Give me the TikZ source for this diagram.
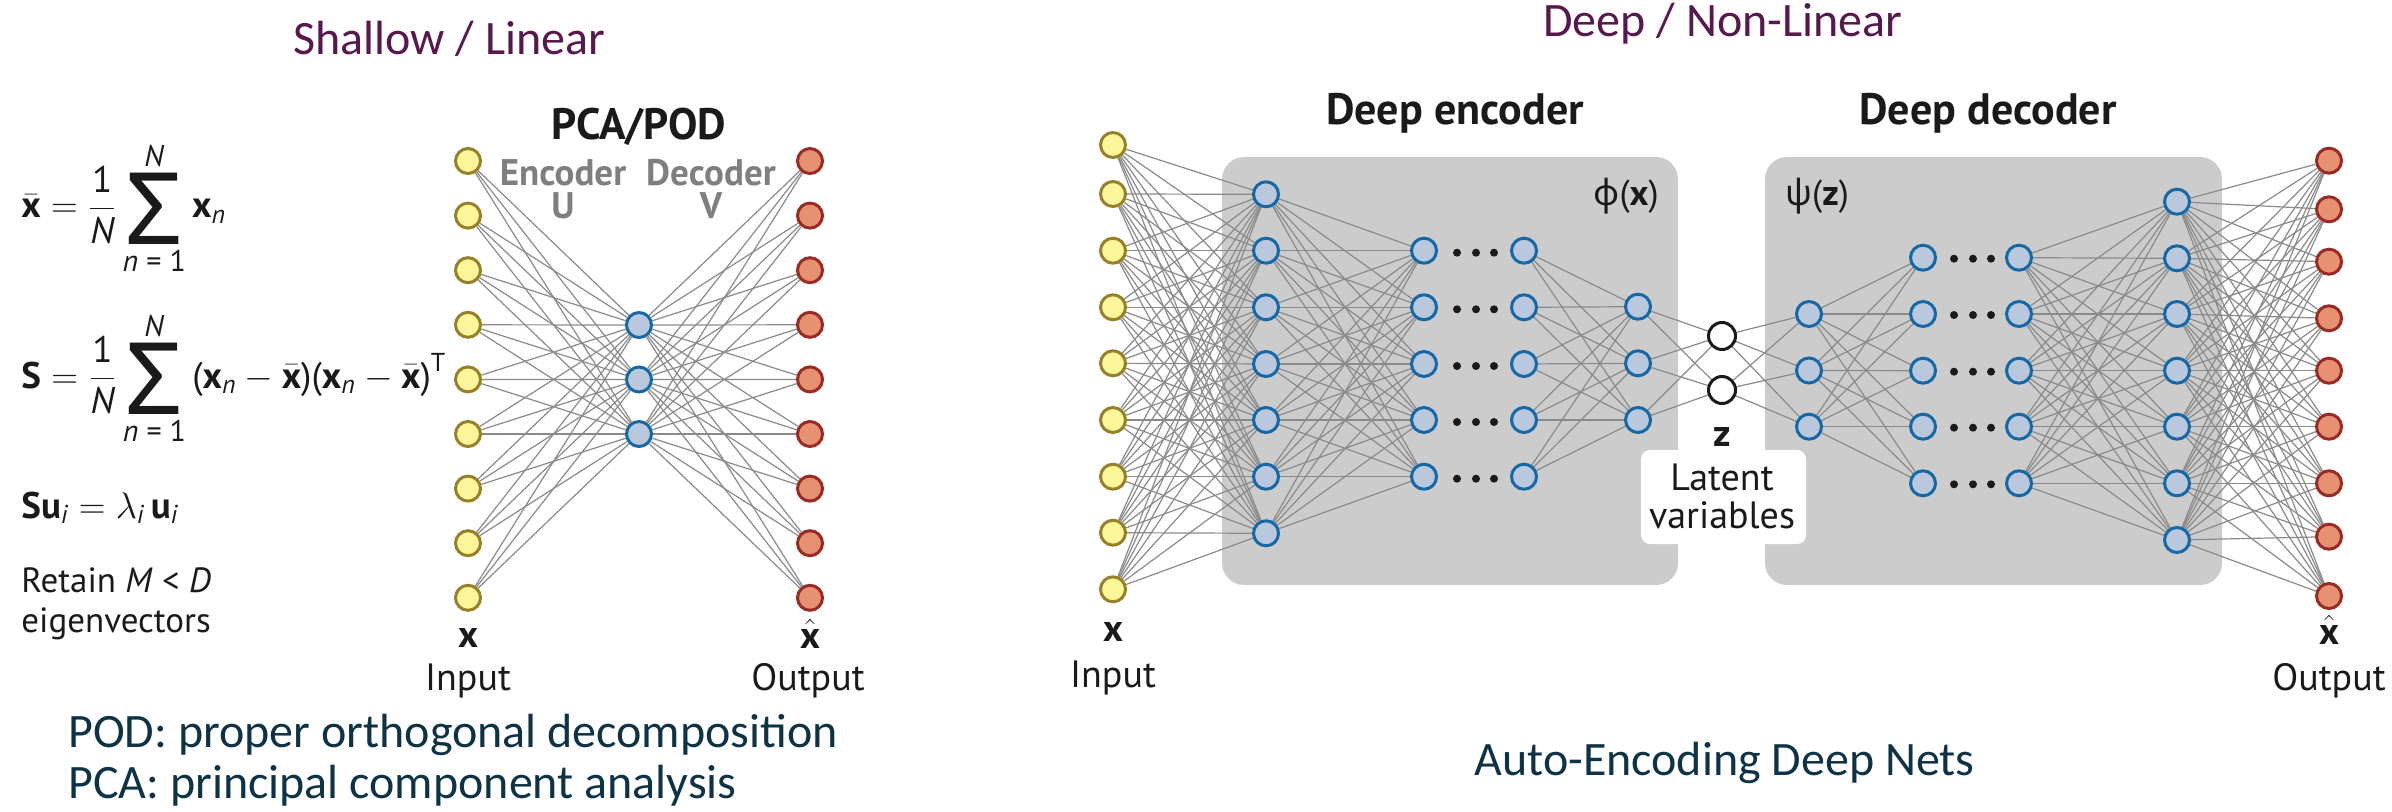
\RequirePackage{fix-cm}
\documentclass[tikz,border=0pt]{standalone}
\usepackage{amsmath}
\usepackage{fontspec}
\newfontfamily\slidefont{Carlito}
\newfontfamily\figfont{PT Sans}
\newfontfamily\grkfont{Noto Sans}
\definecolor{edgegray}{RGB}{138,138,138}
\definecolor{boxgray}{RGB}{204,204,204}
\definecolor{infill}{RGB}{255,245,154}
\definecolor{indraw}{RGB}{150,128,40}
\definecolor{hidfill}{RGB}{185,200,221}
\definecolor{hiddraw}{RGB}{20,104,166}
\definecolor{outfill}{RGB}{231,145,115}
\definecolor{outdraw}{RGB}{154,42,36}
\definecolor{titlepurple}{RGB}{88,24,78}
\definecolor{slideblue}{RGB}{14,50,70}
\definecolor{labelgray}{RGB}{127,127,127}
\definecolor{inkblack}{RGB}{26,26,26}
\newcommand{\mysum}{\mathop{\vcenter{\hbox{\grkfont\bfseries\fontsize{50pt}{50pt}\selectfont\setbox0\hbox{Σ}\ht0=\fontcharht\font`Σ\dp0=0pt\box0}}}}
\newcommand{\limtext}[1]{\hbox{\figfont\fontsize{15pt}{15pt}\selectfont #1}}
\pgfdeclarelayer{boxes}
\pgfdeclarelayer{wires}
\pgfsetlayers{boxes,wires,main}
\tikzset{
  neuron/.style={circle, minimum size=12.5pt, inner sep=0pt, line width=1.5pt},
  innode/.style={neuron, fill=infill, draw=indraw},
  hidnode/.style={neuron, fill=hidfill, draw=hiddraw},
  outnode/.style={neuron, fill=outfill, draw=outdraw},
  latnode/.style={neuron, fill=white, draw=inkblack, minimum size=13.5pt},
  wire/.style={draw=edgegray, line width=0.6pt},
  ellipsisdot/.style={circle, fill=inkblack, inner sep=0pt, minimum size=4pt},
  slidetitle/.style={font=\slidefont\fontsize{24pt}{28pt}\selectfont, text=titlepurple, inner sep=0pt, anchor=base west},
  slidetext/.style={font=\slidefont\fontsize{24pt}{28pt}\selectfont, text=slideblue, inner sep=0pt, anchor=base west},
  figlabel/.style={font=\figfont\fontsize{19pt}{23pt}\selectfont, text=inkblack, inner sep=0pt, anchor=base},
  varlabel/.style={font=\figfont\bfseries\fontsize{19pt}{23pt}\selectfont, text=inkblack, inner sep=0pt},
  headlabel/.style={font=\figfont\bfseries\fontsize{22pt}{26pt}\selectfont, text=inkblack, inner sep=0pt, anchor=base},
  enclabel/.style={font=\figfont\bfseries\fontsize{18.5pt}{22pt}\selectfont, text=labelgray, inner sep=0pt, anchor=base},
  formula/.style={font=\figfont\fontsize{18.5pt}{22pt}\selectfont, text=inkblack, inner sep=0pt, anchor=base west},
  smalltext/.style={font=\figfont\fontsize{17.5pt}{21pt}\selectfont, text=inkblack, inner sep=0pt, anchor=base west},
  funclabel/.style={font=\figfont\fontsize{18pt}{22pt}\selectfont, text=inkblack, inner sep=0pt},
  encbox/.style={fill=boxgray, rounded corners=11pt},
  latbox/.style={fill=white, rounded corners=4.5pt}
}
\begin{document}
\begin{tikzpicture}[x=0.5pt, y=-0.5pt]
\useasboundingbox (0,0) rectangle (2392,812);

% ---------------- titles and slide text
\node[slidetitle] (tshallow) at (293,55) {Shallow / Linear};
\node[slidetitle] (tdeep) at (1543,37) {Deep / Non-Linear};
\node[slidetext] (tpod) at (68,747) {POD: proper orthogonal decomposition};
\node[slidetext] (tpca) at (68,798) {PCA: principal component analysis};
\node[slidetext] (tauto) at (1474,775) {Auto-Encoding Deep Nets};

% ---------------- formulas
\node[formula] (fmean) at (21,218) {$\bar{\textbf{x}} = \dfrac{\text{1}}{\textit{N}}\mysum\limits_{\limtext{\textit{n} = 1}}^{\limtext{\textit{N}}}\textbf{x}_{\textit{n}}$};
\node[formula] (fcov) at (21,388) {$\textbf{S} = \dfrac{\text{1}}{\textit{N}}\mysum\limits_{\limtext{\textit{n} = 1}}^{\limtext{\textit{N}}}\text{(}\textbf{x}_{\textit{n}} - \bar{\textbf{x}}\text{)(}\textbf{x}_{\textit{n}} - \bar{\textbf{x}}\text{)}^{\text{T}}$};
\node[formula] (feig) at (21,518) {$\textbf{Su}_{\textit{i}} = \lambda_{\textit{i}}\,\textbf{u}_{\textit{i}}$};
\node[smalltext] (fret) at (21,592) {Retain \textit{M} < \textit{D}};
\node[smalltext] (feigv) at (21,632) {eigenvectors};

% ---------------- shallow network
\foreach \i/\y in {1/161,2/215.6,3/270.2,4/324.8,5/379.4,6/434,7/488.6,8/543.2,9/597.8}{
  \node[innode] (pin\i) at (468,\y) {};
  \node[outnode] (pout\i) at (810,\y) {};
}
\foreach \j/\y in {1/325,2/379.5,3/434}{
  \node[hidnode] (phid\j) at (639,\y) {};
}
\begin{pgfonlayer}{wires}
\foreach \i in {1,...,9}{
  \foreach \j in {1,2,3}{
    \draw[wire] (pin\i) -- (phid\j);
    \draw[wire] (phid\j) -- (pout\i);
  }
}
\end{pgfonlayer}
\node[headlabel] (lpca) at (639,140) {PCA/POD};
\node[enclabel] (lenc) at (563,186) {Encoder};
\node[enclabel] (lencu) at (563,219) {U};
\node[enclabel] (ldec) at (711,186) {Decoder};
\node[enclabel] (ldecv) at (711,219) {V};
\node[varlabel] (lpx) at (468,638) {x};
\node[figlabel] (lpin) at (468,690) {Input};
\node[varlabel] (lpxh) at (810,634) {$\hat{\textbf{x}}$};
\node[figlabel] (lpout) at (808,690) {Output};

% ---------------- deep network boxes
\begin{pgfonlayer}{boxes}
\path[encbox] (1222,157) rectangle (1678,585);
\path[encbox] (1765,157) rectangle (2222,585);
\path[latbox] (1641,450) rectangle (1806,544);
\end{pgfonlayer}

\foreach \i/\y in {1/145,2/194,3/250.7,4/307.3,5/363.3,6/420,7/476.7,8/532.7,9/589.3}{
  \node[innode] (din\i) at (1113,\y) {};
}
\foreach \i/\y in {1/194.3,2/250.7,3/307.3,4/364,5/420,6/476.7,7/533.3}{
  \node[hidnode] (ea\i) at (1266,\y) {};
}
\foreach \i/\y in {1/250.7,2/307.3,3/364,4/420,5/476.7}{
  \node[hidnode] (eb\i) at (1424,\y) {};
  \node[hidnode] (ec\i) at (1524,\y) {};
  \node[ellipsisdot] (edA\i) at (1457,\y+2) {};
  \node[ellipsisdot] (edB\i) at (1476,\y+2) {};
  \node[ellipsisdot] (edC\i) at (1494,\y+2) {};
}
\foreach \i/\y in {1/306.7,2/363.3,3/420}{
  \node[hidnode] (ed\i) at (1638,\y) {};
}
\node[latnode] (z1) at (1722,336) {};
\node[latnode] (z2) at (1722,390) {};
\foreach \i/\y in {1/314,2/370.5,3/426.7}{
  \node[hidnode] (da\i) at (1809,\y) {};
}
\foreach \i/\y in {1/257.7,2/314,3/370.7,4/426.7,5/483.3}{
  \node[hidnode] (db\i) at (1923,\y) {};
  \node[hidnode] (dc\i) at (2019,\y) {};
  \node[ellipsisdot] (ddA\i) at (1954,\y+1) {};
  \node[ellipsisdot] (ddB\i) at (1973,\y+1) {};
  \node[ellipsisdot] (ddC\i) at (1991,\y+1) {};
}
\foreach \i/\y in {1/201.7,2/258.3,3/314,4/370.7,5/426.7,6/483.3,7/540}{
  \node[hidnode] (dd\i) at (2177,\y) {};
}
\foreach \i/\y in {1/160.7,2/209.3,3/261.7,4/318.3,5/370.7,6/426.7,7/483.3,8/536.7,9/596}{
  \node[outnode] (dout\i) at (2329,\y) {};
}

\begin{pgfonlayer}{wires}
\foreach \i in {1,...,9}{\foreach \j in {1,...,7}{\draw[wire] (din\i) -- (ea\j);}}
\foreach \i in {1,...,7}{\foreach \j in {1,...,5}{\draw[wire] (ea\i) -- (eb\j);}}
\foreach \i in {1,...,5}{\foreach \j in {1,2,3}{\draw[wire] (ec\i) -- (ed\j);}}
\foreach \i in {1,2,3}{\foreach \j in {1,2}{\draw[wire] (ed\i) -- (z\j);}}
\foreach \i in {1,2}{\foreach \j in {1,2,3}{\draw[wire] (z\i) -- (da\j);}}
\foreach \i in {1,2,3}{\foreach \j in {1,...,5}{\draw[wire] (da\i) -- (db\j);}}
\foreach \i in {1,...,5}{\foreach \j in {1,...,7}{\draw[wire] (dc\i) -- (dd\j);}}
\foreach \i in {1,...,7}{\foreach \j in {1,...,9}{\draw[wire] (dd\i) -- (dout\j);}}
\end{pgfonlayer}

\node[headlabel] (ldenc) at (1455,125) {Deep encoder};
\node[headlabel] (lddec) at (1988,125) {Deep decoder};
\node[funclabel] (lphi) at (1626,196) {{\grkfont ϕ}(\textbf{x})};
\node[funclabel] (lpsi) at (1817,196) {{\grkfont ψ}(\textbf{z})};
\node[varlabel] (lz) at (1722,437) {z};
\node[figlabel] (llat1) at (1722,490) {Latent};
\node[figlabel] (llat2) at (1722,528) {variables};
\node[varlabel] (ldx) at (1113,632) {x};
\node[figlabel] (ldin) at (1113,687) {Input};
\node[varlabel] (ldxh) at (2329,630) {$\hat{\textbf{x}}$};
\node[figlabel] (ldout) at (2329,690) {Output};
\end{tikzpicture}
\end{document}
